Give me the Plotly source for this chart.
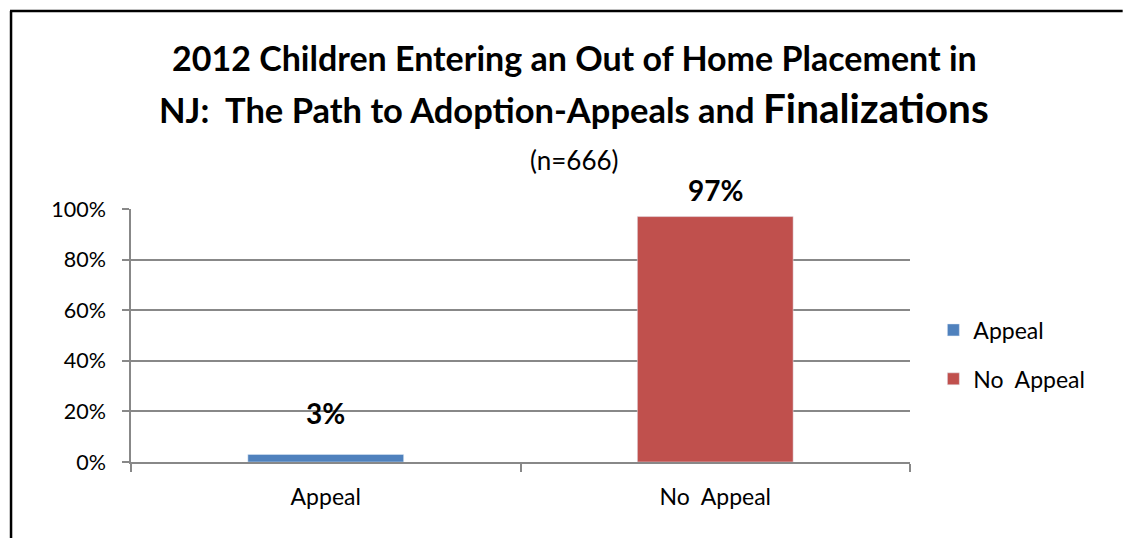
import plotly.graph_objects as go

categories = ["Appeal", "No  Appeal"]
values = [3, 97]
labels = ["3%", "97%"]
colors = ["#4F81BD", "#C0504D"]
tick_vals = [0, 20, 40, 60, 80, 100]
tick_text = ["0%", "20%", "40%", "60%", "80%", "100%"]

FONT = "Lato"

fig = go.Figure()
for cat, val, col in zip(categories, values, colors):
    fig.add_trace(go.Bar(
        x=[cat], y=[val], name=cat, marker_color=col, width=0.4,
        showlegend=True, legendgroup=cat,
    ))

label_shift = [41, 27]
for cat, val, lab, sh in zip(categories, values, labels, label_shift):
    fig.add_annotation(x=cat, y=val, text="<b>%s</b>" % lab, showarrow=False,
                       yanchor="middle", yshift=sh,
                       font=dict(family=FONT, size=28, color="black"))

TX = 0.5687
fig.add_annotation(xref="paper", yref="paper", x=TX, y=1.0, yshift=152, yanchor="middle",
                   text="<b>2012 Children Entering an Out of Home Placement in</b>",
                   showarrow=False, font=dict(family=FONT, size=34, color="black"))
fig.add_annotation(xref="paper", yref="paper", x=TX, y=1.0, yshift=102, yanchor="middle",
                   text="<b>NJ:  The Path to Adoption-Appeals and <span style='font-size:40.5px'>Finalizations</span></b>",
                   showarrow=False, font=dict(family=FONT, size=34.5, color="black"))
fig.add_annotation(xref="paper", yref="paper", x=TX, y=1.0, yshift=49, yanchor="middle",
                   text="(n=666)", showarrow=False,
                   font=dict(family=FONT, size=26, color="black"))

# outer border (top and left edges)
fig.add_shape(type="line", xref="paper", yref="paper", x0=-0.1553, x1=1.273,
              y0=1.7826, y1=1.7826, line=dict(color="black", width=2.5))
fig.add_shape(type="line", xref="paper", yref="paper", x0=-0.1540, x1=-0.1540,
              y0=1.7826, y1=-0.31, line=dict(color="black", width=2.5))

fig.update_layout(
    width=1123, height=538,
    margin=dict(l=131, r=213, t=209, b=76),
    paper_bgcolor="white", plot_bgcolor="white",
    font=dict(family=FONT, size=18, color="black"),
    legend=dict(x=1.03, y=0.425, xanchor="left", yanchor="middle",
                font=dict(family=FONT, size=23), tracegroupgap=16,
                traceorder="grouped"),
    xaxis=dict(type="category", showline=True, linecolor="#888888", linewidth=1.5,
               ticks="outside", tickson="boundaries", ticklen=8, tickcolor="#888888",
               tickwidth=1.5, showgrid=False, ticklabelstandoff=14,
               tickfont=dict(family=FONT, size=23)),
    yaxis=dict(range=[0, 100], tickvals=tick_vals, ticktext=tick_text,
               showline=True, linecolor="#888888", linewidth=1.5,
               ticks="outside", ticklen=7, tickcolor="#888888", tickwidth=1.5,
               showgrid=True, gridcolor="#888888", gridwidth=1.5, zeroline=False,
               ticklabelstandoff=12,
               tickfont=dict(family=FONT, size=21.5)),
)
fig.write_html("out.html", config={"displayModeBar": False})
